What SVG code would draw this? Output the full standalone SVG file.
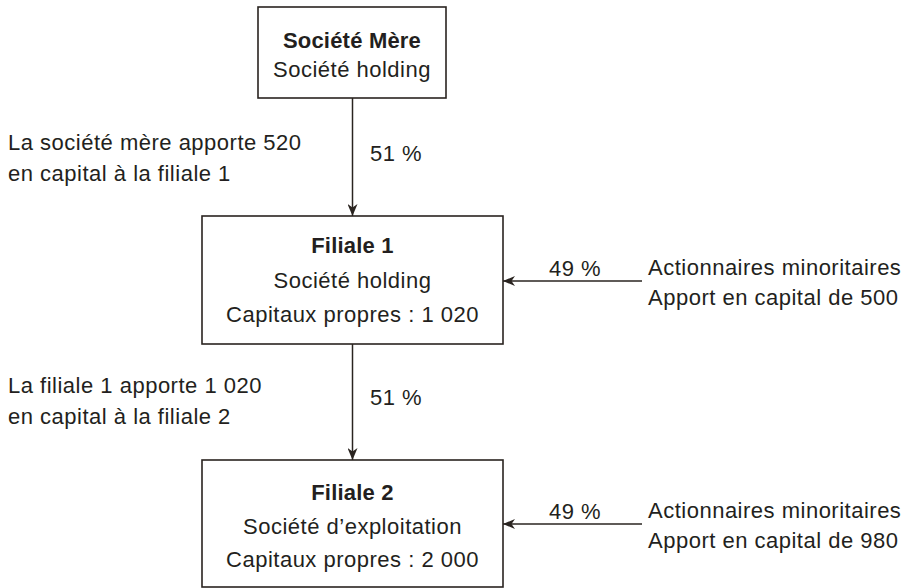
<svg xmlns="http://www.w3.org/2000/svg" width="904" height="588" viewBox="0 0 904 588">
<defs>
<style>
.box{fill:#fff;stroke:#2a2420;stroke-width:1.6}
.t{font-family:"Liberation Sans",Arial,sans-serif;font-size:22px;letter-spacing:0.5px;fill:#231f20}
.c{text-anchor:middle}
.b{font-weight:bold;letter-spacing:0.2px}
.ln{stroke:#2a2420;stroke-width:1.5;fill:none;marker-end:url(#ah)}
</style>
<marker id="ah" viewBox="0 0 12 10" refX="12" refY="5" markerWidth="12" markerHeight="10" markerUnits="userSpaceOnUse" orient="auto">
<path d="M0,0 L12,5 L0,10 L3.5,5 Z" fill="#2a2420"/>
</marker>
</defs>
<rect width="904" height="588" fill="#fff"/>
<g id="connectors">
<line class="ln" x1="352.5" y1="98" x2="352.5" y2="216"/>
<line class="ln" x1="352.5" y1="344" x2="352.5" y2="460"/>
<line class="ln" x1="642" y1="281" x2="503" y2="281"/>
<line class="ln" x1="642" y1="524" x2="503" y2="524"/>
</g>
<g id="mere">
<rect class="box" x="258" y="7" width="188" height="91"/>
<text class="t c b" x="352" y="48">Société Mère</text>
<text class="t c" x="352" y="77">Société holding</text>
</g>
<g id="filiale1">
<rect class="box" x="202" y="216" width="301" height="128"/>
<text class="t c b" x="352.5" y="253">Filiale 1</text>
<text class="t c" x="352.5" y="288">Société holding</text>
<text class="t c" x="352.5" y="322">Capitaux propres : 1 020</text>
</g>
<g id="filiale2">
<rect class="box" x="202" y="460" width="301" height="127"/>
<text class="t c b" x="352.5" y="500">Filiale 2</text>
<text class="t c" x="352.5" y="534">Société d’exploitation</text>
<text class="t c" x="352.5" y="567">Capitaux propres : 2 000</text>
</g>
<g id="labels">
<text class="t" x="8" y="150">La société mère apporte 520</text>
<text class="t" x="8" y="181">en capital à la filiale 1</text>
<text class="t" x="370" y="161">51 %</text>
<text class="t" x="8" y="393">La filiale 1 apporte 1 020</text>
<text class="t" x="8" y="424">en capital à la filiale 2</text>
<text class="t" x="370" y="405">51 %</text>
<text class="t c" x="575" y="276">49 %</text>
<text class="t" x="648" y="275">Actionnaires minoritaires</text>
<text class="t" x="648" y="305">Apport en capital de 500</text>
<text class="t c" x="575" y="519">49 %</text>
<text class="t" x="648" y="518">Actionnaires minoritaires</text>
<text class="t" x="648" y="548">Apport en capital de 980</text>
</g>
</svg>
